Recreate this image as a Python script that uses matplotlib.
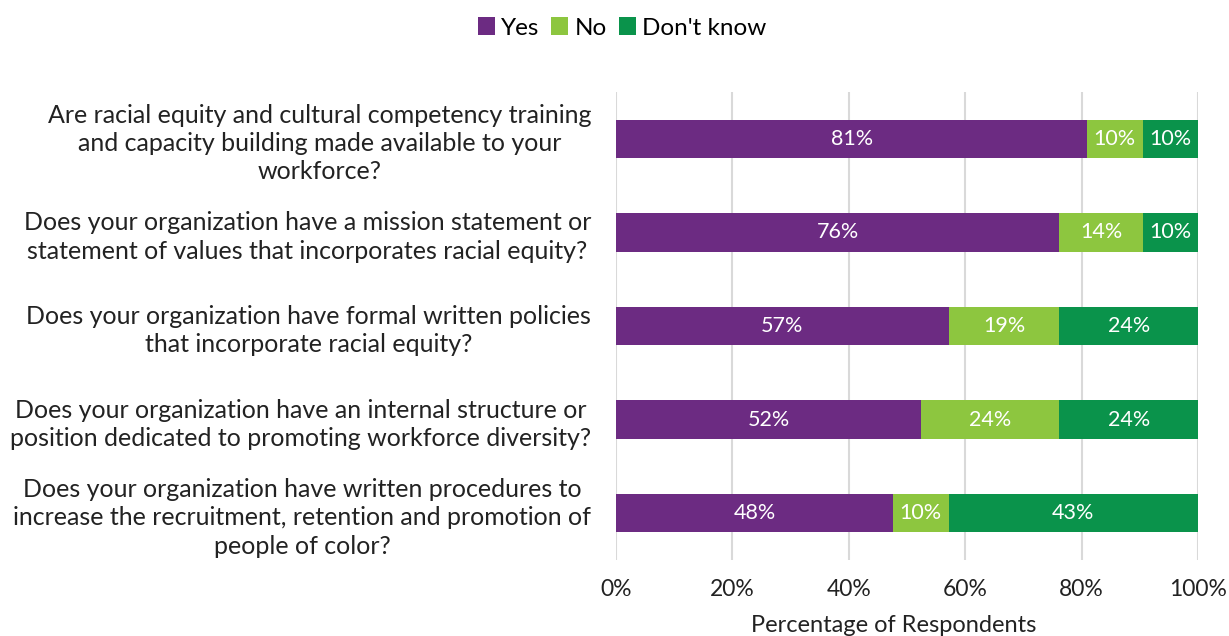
import matplotlib
matplotlib.use("Agg")
import matplotlib.pyplot as plt
from matplotlib.patches import Patch

plt.rcParams["font.family"] = ["Lato", "DejaVu Sans"]

questions = [
    "Are racial equity and cultural competency training\nand capacity building made available to your\nworkforce?",
    "Does your organization have a mission statement or\nstatement of values that incorporates racial equity?",
    "Does your organization have formal written policies\nthat incorporate racial equity?",
    "Does your organization have an internal structure or\nposition dedicated to promoting workforce diversity?",
    "Does your organization have written procedures to\nincrease the recruitment, retention and promotion of\npeople of color?",
]

# share of respondents (%)
yes = [80.95, 76.19, 57.14, 52.38, 47.62]
no = [9.52, 14.29, 19.05, 23.81, 9.52]
dont_know = [9.52, 9.52, 23.81, 23.81, 42.86]

series_names = ["Yes", "No", "Don't know"]
colors = ["#6C2B82", "#8DC63F", "#0A934B"]
x_ticks = [0, 20, 40, 60, 80, 100]

fig = plt.figure(figsize=(12.29, 6.36), dpi=100)
ax = fig.add_axes([616 / 1229, 1 - 560 / 636, 582 / 1229, 468 / 636])

ypos = list(range(len(questions)))
left = [0.0] * len(questions)
for name, vals, col in zip(series_names, [yes, no, dont_know], colors):
    bars = ax.barh(ypos, vals, left=left, height=0.41, color=col, label=name, zorder=3)
    for b, v in zip(bars, vals):
        ax.text(b.get_x() + b.get_width() / 2, b.get_y() + b.get_height() / 2,
                f"{v:.0f}%", ha="center", va="center", color="white",
                fontsize=15.5, zorder=4)
    left = [l + v for l, v in zip(left, vals)]

ax.set_xlim(0, 100)
ax.set_ylim(len(questions) - 0.5, -0.5)
ax.set_xticks(x_ticks)
ax.set_xticklabels([f"{t}%" for t in x_ticks], fontsize=16.5, color="#222222")
ax.set_yticks(ypos)
ax.set_yticklabels(questions, fontsize=18, color="#222222",
                   multialignment="center", linespacing=1.28)
ax.tick_params(axis="y", length=0, pad=18)
ax.tick_params(axis="x", length=0, pad=14)
ax.set_xlabel("Percentage of Respondents", fontsize=17, color="#222222")
ax.xaxis.set_label_coords(0.477, -0.118)

ax.grid(axis="x", color="#D9D9D9", linewidth=1.5, zorder=0)
for s in ["top", "right", "bottom", "left"]:
    ax.spines[s].set_visible(False)

handles = [Patch(facecolor=c, label=n) for n, c in zip(series_names, colors)]
fig.legend(handles=handles, loc="center", bbox_to_anchor=(622 / 1229, 1 - 28 / 636),
           ncol=3, frameon=False, fontsize=17.5, handlelength=0.7, handleheight=0.7,
           handletextpad=0.25, columnspacing=0.5)

fig.savefig("out.png", dpi=100)
